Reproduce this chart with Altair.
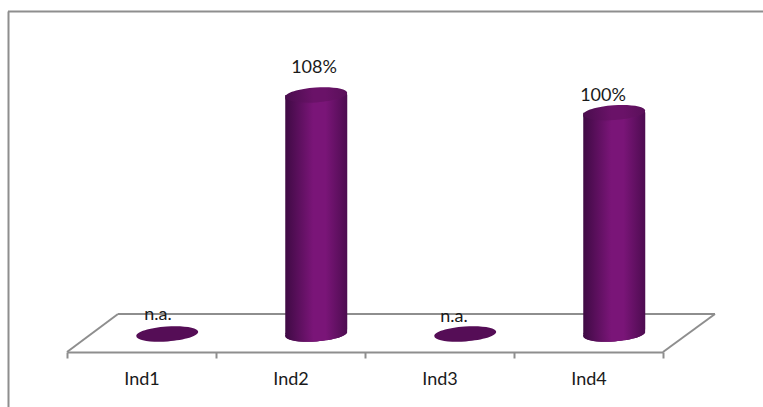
import altair as alt
import pandas as pd

categories = ["Ind1", "Ind2", "Ind3", "Ind4"]
values = [None, 108, None, 100]
labels = ["n.a.", "108%", "n.a.", "100%"]

FONT = "Lato"
GREY = "#8e8e8e"
TEXT = "#1a1a1a"

df = pd.DataFrame({"cat": categories, "value": values, "label": labels})
df["base"] = 0
df["top"] = df["value"].fillna(0)

x = alt.X(
    "cat:N",
    title=None,
    sort=categories,
    scale=alt.Scale(paddingInner=0, paddingOuter=0),
    axis=alt.Axis(
        tickBand="extent",
        labelAngle=0,
        labelFont=FONT,
        labelFontSize=18,
        labelColor=TEXT,
        labelPadding=12,
        domainColor=GREY,
        domainWidth=2,
        tickColor=GREY,
        tickWidth=2,
        tickSize=6,
        grid=False,
    ),
)
y_scale = alt.Scale(domain=[-8.13, 150.9], nice=False, zero=False)


def cylinder_fill(edge_left, mid, edge_right):
    return alt.Gradient(
        gradient="linear",
        x1=0, x2=1, y1=0, y2=0,
        stops=[
            alt.GradientStop(offset=0, color=edge_left),
            alt.GradientStop(offset=0.45, color=mid),
            alt.GradientStop(offset=0.65, color=mid),
            alt.GradientStop(offset=1, color=edge_right),
        ],
    )


body_fill = cylinder_fill("#3f0a44", "#7a1578", "#4d0c50")
cap_fill = cylinder_fill("#4a0d4e", "#6a1268", "#591059")
ELLIPSE = "M-1,0A1,0.24,0,1,1,1,0A1,0.24,0,1,1,-1,0Z"
ellipse_mark = dict(shape=ELLIPSE, size=3844, filled=True, opacity=1, angle=356, xOffset=25.75)


def rule(x0, x1, y0, y1, color=GREY):
    return alt.Chart(df.head(1)).mark_rule(color=color, strokeWidth=2).encode(
        x=alt.value(x0), x2=alt.value(x1), y=alt.value(y0), y2=alt.value(y1)
    )


# Floor of the 3D plot: back edge and the two receding sides, plus the outer frame
furniture = [
    rule(51, 648, 314, 314),
    rule(0, 51, 352, 314),
    rule(596, 648, 352, 314),
    rule(-59, 696, 11.5, 11.5),
    rule(-58.5, -58.5, 11.5, 407),
]

base = alt.Chart(df).encode(x=x)

floor_spots = base.mark_point(color="#550d56", **ellipse_mark).encode(
    y=alt.Y("base:Q", scale=y_scale, title=None, axis=None)
)

standing = base.transform_filter("isValid(datum.value)")


def ellipse_layer(field, fill, y_offset=0):
    return standing.mark_point(
        **{**ellipse_mark, "fill": fill, "strokeWidth": 0, "yOffset": y_offset}
    ).encode(y=alt.Y(field, scale=y_scale, axis=None))


bodies = standing.mark_bar(
    size=62, xOffset=25.75, fill=body_fill, cornerRadiusBottomRight=5
).encode(
    y=alt.Y("value:Q", scale=y_scale, axis=None, stack=None),
    y2=alt.Y2("base:Q"),
)

cylinders = [
    ellipse_layer("base:Q", body_fill),
    ellipse_layer("base:Q", body_fill, -1.5),
    bodies,
    ellipse_layer("value:Q", body_fill, 1.5),
    ellipse_layer("value:Q", cap_fill),
]

# Each label sits at its own offset from the cylinder it belongs to
offsets = {"Ind1": (16.5, -19), "Ind2": (23.5, -27), "Ind3": (14.5, -17), "Ind4": (14.5, -17)}
texts = [
    alt.Chart(df[df["cat"] == c]).mark_text(
        font=FONT, fontSize=18, color=TEXT, dx=dx, dy=dy
    ).encode(
        x=x,
        y=alt.Y("top:Q", scale=y_scale, axis=None),
        text="label:N",
    )
    for c, (dx, dy) in offsets.items()
]

chart = (
    alt.layer(*furniture, floor_spots, *cylinders, *texts)
    .properties(
        width=596,
        height=352,
        background="white",
        padding={"left": 67, "top": 0, "right": 100, "bottom": 55},
        autosize=alt.AutoSizeParams(type="none"),
    )
    .configure_view(stroke=None)
)

chart.save("out.html", embed_options={"renderer": "svg", "actions": False})
